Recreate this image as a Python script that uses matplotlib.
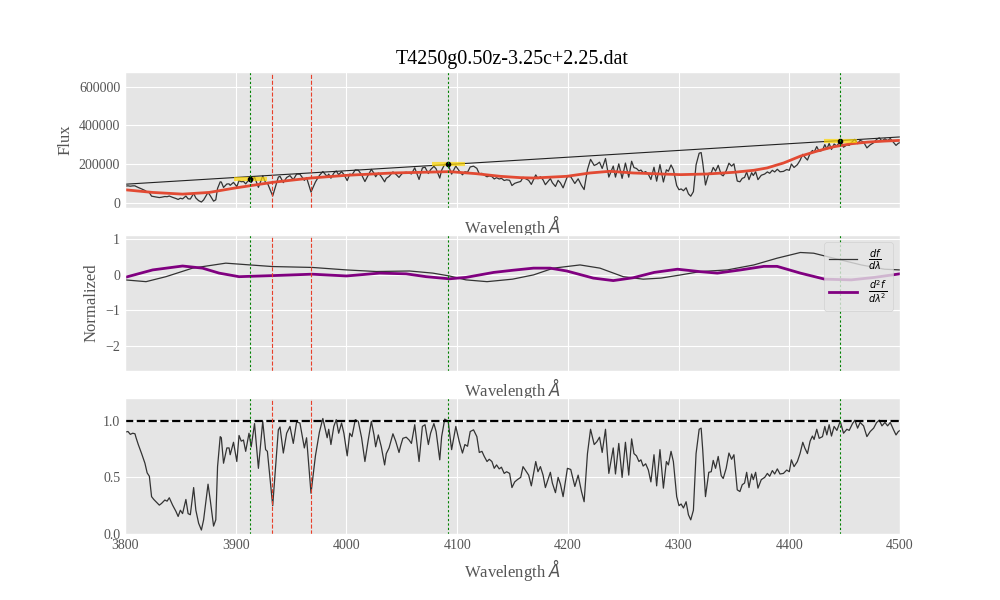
import numpy as np
import matplotlib
matplotlib.use("Agg")
import matplotlib.pyplot as plt

# normalized spectrum
wave = [3800, 3802.7, 3804.8, 3807, 3809, 3810, 3812, 3815, 3818, 3820, 3822, 3824, 3826, 3828,
        3831, 3833, 3836, 3838, 3840, 3843, 3846, 3848, 3850, 3852, 3855, 3857, 3859, 3862, 3864,
        3866.5, 3869, 3871, 3875, 3877, 3880, 3882, 3883.6, 3886, 3887, 3889, 3892, 3894, 3895,
        3898, 3901, 3903, 3905, 3907, 3909, 3912, 3914, 3917, 3920.5, 3924.4, 3927, 3928.6, 3933.4,
        3938.5, 3940, 3943, 3946, 3949, 3952, 3955, 3958, 3962, 3964, 3968, 3972, 3975.6,
        3978.7, 3981, 3982.6, 3984, 3986, 3988.6, 3990.8, 3993, 3995.6, 3997.7, 4000.7, 4003, 4005,
        4008, 4010.7, 4013.7, 4016.7, 4019.7, 4022.5, 4024.9, 4026.4, 4028.8, 4031.5, 4034.5, 4036,
        4038.5, 4042, 4044.5, 4047.5, 4049, 4051, 4054, 4056.6, 4058.7, 4061.7, 4065.6, 4068.6, 4071,
        4074, 4076, 4079, 4081, 4084.3, 4086, 4088.8, 4091.9, 4095, 4098.8, 4101.8, 4104.8, 4107,
        4109.4, 4111.8, 4114.8, 4117.8, 4120, 4122.4, 4124.5, 4127, 4129, 4131.4, 4133.5, 4135.6,
        4138, 4140, 4142.5, 4144.7, 4147.4, 4149.5, 4152, 4154.4, 4157.4, 4159.5, 4162.5, 4164.6,
        4167, 4171, 4173, 4175.2, 4177.6, 4179.7, 4184.2, 4186, 4188.8, 4191.2, 4193.3, 4195.7,
        4199.6, 4202.6, 4206.3, 4209.3, 4212.3, 4214.7, 4217.7, 4220.5, 4223.8, 4226.2, 4228.6, 4231,
        4234, 4237, 4241, 4243, 4246, 4249, 4252, 4255, 4257.6, 4259.7, 4262, 4264.2, 4266, 4268,
        4270.3, 4272.7, 4275, 4277.8, 4280.2, 4283.2, 4286.3, 4289, 4290.8, 4293.2, 4295.3, 4298.3,
        4300.4, 4302.3, 4304.4, 4306.8, 4308.9, 4311, 4313.4, 4315.8, 4318.6, 4320.4, 4321.8, 4324.3,
        4327.3, 4329.5, 4331.3, 4333.4, 4335.8, 4338.5, 4340.3, 4343, 4345.5, 4347.9, 4350, 4353,
        4355.4, 4357.5, 4359.6, 4361.5, 4363.6, 4366, 4367.5, 4369.6, 4371.7, 4374.7, 4377.8, 4380.2,
        4382.3, 4384.7, 4386.8, 4389.2, 4391.6, 4394.7, 4397.7, 4400, 4401.9, 4404.3, 4407.3, 4409.7,
        4412.2, 4414, 4416.4, 4418.8, 4420.9, 4422.4, 4424.8, 4427, 4430, 4432.1, 4433.9, 4436,
        4438.1, 4440.5, 4443, 4446, 4449, 4452, 4454.1, 4457.1, 4459.2, 4461.7, 4464, 4467.1, 4470.1,
        4473.1, 4476.2, 4478.9, 4481.3, 4483.7, 4486.4, 4488.8, 4491.2, 4494.2, 4496.4, 4498.5, 4500.9]
norm = [0.90, 0.905, 0.88, 0.89, 0.885, 0.85, 0.79, 0.71, 0.625, 0.54, 0.51, 0.33, 0.305, 0.285,
        0.255, 0.27, 0.30, 0.29, 0.32, 0.255, 0.20, 0.155, 0.21, 0.18, 0.305, 0.18, 0.17, 0.41, 0.21,
        0.095, 0.035, 0.125, 0.44, 0.30, 0.07, 0.125, 0.595, 0.86, 0.85, 0.625, 0.76, 0.76, 0.70,
        0.81, 0.64, 0.87, 0.82, 0.83, 0.73, 0.89, 0.77, 0.975, 0.58, 0.995, 0.745, 0.73, 0.25,
        0.92, 0.945, 0.715, 0.89, 0.95, 0.80, 0.99, 0.98, 0.76, 0.85, 0.36, 0.69, 0.90,
        1.02, 0.92, 0.85, 0.925, 0.79, 0.95, 1.01, 0.89, 0.98, 0.89, 0.69, 0.89, 0.86,
        1.01, 0.995, 0.85, 0.64, 0.83, 0.995, 0.875, 0.77, 0.875, 0.77, 0.61, 0.71,
        0.76, 0.885, 0.82, 0.72, 0.78, 0.845, 0.855, 0.83, 0.80, 0.965, 0.64, 0.95, 0.965,
        0.79, 0.89, 0.975, 0.905, 0.655, 0.86, 1.015, 0.995, 0.745, 0.95, 0.82, 0.715, 0.79,
        0.775, 0.905, 0.92, 0.86, 0.72, 0.73, 0.685, 0.64, 0.66, 0.64, 0.58, 0.61,
        0.575, 0.59, 0.535, 0.55, 0.535, 0.41, 0.46, 0.48, 0.50, 0.595, 0.55, 0.52,
        0.425, 0.64, 0.55, 0.595, 0.52, 0.41, 0.545, 0.45, 0.365, 0.50, 0.44, 0.33,
        0.58, 0.57, 0.42, 0.52, 0.375, 0.285, 0.71, 0.925, 0.79, 0.815, 0.855, 0.72,
        0.925, 0.535, 0.76, 0.53, 0.80, 0.50, 0.81, 0.52, 0.84, 0.71, 0.69, 0.64, 0.655, 0.60,
        0.62, 0.565, 0.46, 0.70, 0.425, 0.745, 0.405, 0.64, 0.61, 0.73, 0.64, 0.33,
        0.25, 0.265, 0.23, 0.285, 0.17, 0.125, 0.21, 0.71, 0.925, 0.935, 0.745, 0.33,
        0.545, 0.55, 0.65, 0.58, 0.685, 0.515, 0.49, 0.58, 0.715, 0.66, 0.70, 0.39,
        0.375, 0.435, 0.45, 0.545, 0.41, 0.53, 0.48, 0.545, 0.405, 0.48, 0.50, 0.535,
        0.51, 0.56, 0.53, 0.575, 0.53, 0.535, 0.565, 0.55, 0.655, 0.595, 0.64, 0.71,
        0.81, 0.76, 0.71, 0.82, 0.865, 0.835, 0.925, 0.845, 0.86, 0.95, 0.875, 0.965,
        0.865, 0.95, 0.915, 0.995, 0.89, 0.925, 0.915, 0.975, 1.005, 0.935, 0.985, 0.955, 0.86,
        0.905, 0.935, 0.985, 1.005, 0.955, 0.985, 0.955, 0.985, 0.92, 0.875, 0.905, 0.92]

# straight pseudo-continuum (end points)
cont_wave = [3800, 4500]
cont_flux = [96000, 340000]

# smooth continuum fit (red)
fit_wave = [3800, 3825, 3852, 3876, 3899, 3933, 3968, 4000, 4042, 4093, 4117, 4139, 4157, 4169,
            4199, 4220, 4238, 4259, 4284, 4302, 4326, 4350, 4368, 4380, 4395, 4410, 4425, 4440,
            4456, 4471, 4486, 4500]
fit_flux = [67500, 53700, 45000, 53700, 76200, 105600, 128100, 142000, 154100, 161000, 150600,
            136800, 130000, 128100, 136800, 154100, 162800, 154100, 148900, 145500, 148900,
            157600, 168000, 180100, 206000, 240700, 266700, 289200, 304800, 313400, 318600, 322100]

# local maxima used as anchor points
anchor_wave = [3913, 4092, 4446]
anchor_flux = [124000, 198000, 321000]
red_lines = [3933, 3968]

# derivatives (middle panel)
d1_wave = [3800, 3819, 3837, 3861, 3891, 3913, 3933, 3969, 4000, 4027, 4057, 4078, 4093, 4108,
           4127, 4150, 4169, 4187, 4211, 4229, 4250, 4268, 4284, 4302, 4320, 4344, 4368, 4389,
           4410, 4422, 4440, 4465, 4486, 4500]
d1 = [-0.14, -0.19, -0.05, 0.19, 0.33, 0.28, 0.235, 0.21, 0.14, 0.095, 0.11, 0.05, -0.03, -0.14,
      -0.19, -0.12, 0.0, 0.19, 0.28, 0.19, -0.05, -0.12, -0.09, 0.0, 0.095, 0.14, 0.28, 0.47,
      0.63, 0.61, 0.47, 0.28, 0.16, 0.14]
d2_wave = [3800, 3825, 3852, 3870, 3885, 3903, 3933, 3969, 4000, 4030, 4054, 4072, 4093, 4108,
           4133, 4150, 4169, 4184, 4199, 4223, 4241, 4259, 4278, 4299, 4320, 4335, 4356, 4377,
           4389, 4410, 4432, 4456, 4477, 4500]
d2 = [-0.07, 0.14, 0.25, 0.19, 0.05, -0.05, -0.02, 0.02, -0.03, 0.05, 0.03, -0.05, -0.11, -0.07,
      0.07, 0.13, 0.19, 0.19, 0.11, -0.09, -0.16, -0.08, 0.07, 0.16, 0.09, 0.05, 0.14, 0.24,
      0.24, 0.05, -0.12, -0.14, -0.07, 0.03]

plt.style.use("ggplot")
plt.rcParams["font.family"] = ["Liberation Serif", "DejaVu Sans"]

wave = np.array(wave)
norm = np.array(norm)
# flux = normalized spectrum times the straight pseudo-continuum
flux = norm * np.interp(wave, cont_wave, cont_flux)

fig, axs = plt.subplots(3, 1, figsize=(10, 6), dpi=100, sharex=True)
ax1, ax2, ax3 = axs

ax1.plot(wave, flux, color="#333333", lw=0.9)
ax1.plot(cont_wave, cont_flux, color="#222222", lw=0.8)
ax1.plot(fit_wave, fit_flux, color="#E24A33", lw=2)
for w, f in zip(anchor_wave, anchor_flux):
    ax1.hlines(f, w - 15, w + 15, color="gold", lw=3, alpha=0.7)
ax1.plot(anchor_wave, anchor_flux, "o", color="k", ms=3)
ax1.set_ylim(-26000, 675000)
ax1.set_yticks([0, 200000, 400000, 600000])
ax1.set_ylabel("Flux")
ax1.set_title("T4250g0.50z-3.25c+2.25.dat", color="k")

ax2.plot(d1_wave, d1, color="#333333", lw=0.9, label=r"$\frac{df}{d\lambda}$")
ax2.plot(d2_wave, d2, color="purple", lw=2, label=r"$\frac{d^2f}{d\lambda^2}$")
ax2.set_ylim(-2.7, 1.12)
ax2.set_yticks([-2, -1, 0, 1])
ax2.set_ylabel("Normalized")
ax2.legend(loc="upper right")

ax3.plot(wave, norm, color="#333333", lw=0.9)
ax3.axhline(1.0, color="k", ls="--", lw=1.6)
ax3.set_ylim(0, 1.2)
ax3.set_yticks([0.0, 0.5, 1.0])
ax3.set_xlim(3800, 4500)

for ax in axs:
    for w in anchor_wave:
        ax.axvline(w, color="green", lw=0.8, dashes=(2, 2))
    for w in red_lines:
        ax.axvline(w, color="#E8402A", lw=0.8, ls="--")
    ax.set_xlabel(r"Wavelength $\AA$")
    ax.tick_params(length=0, labelbottom=(ax is ax3))

fig.savefig("out.png", dpi=100)
